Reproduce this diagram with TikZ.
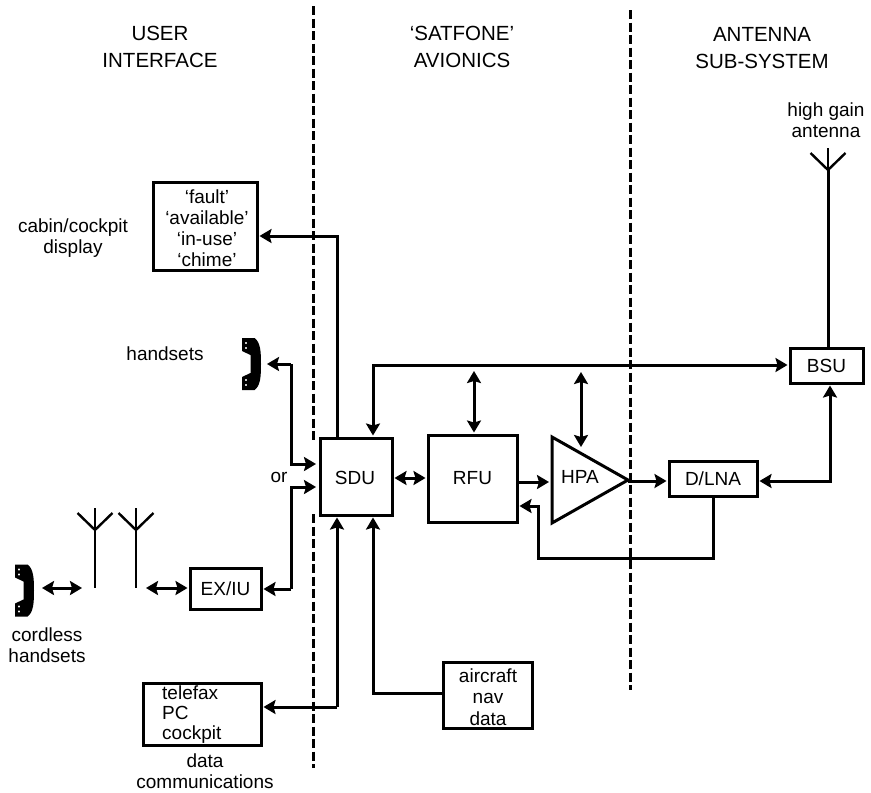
\documentclass[tikz,border=0pt]{standalone}
\usepackage{fontspec}
\setmainfont{Liberation Sans}
\usetikzlibrary{arrows.meta}

\tikzset{
  blockbox/.style={draw,line width=3pt,inner sep=0pt,align=center,font=\fontsize{19}{21.5}\selectfont},
  plainlabel/.style={align=center,inner sep=0pt,font=\fontsize{19}{21.5}\selectfont},
  headlabel/.style={align=center,inner sep=0pt,font=\fontsize{20.5}{27}\selectfont},
  wire/.style={line width=3pt,line join=miter},
  stalk/.style={line width=2.4pt},
  barrier/.style={line width=3pt,dash pattern=on 9pt off 3.5pt},
  handset/.pic={
    \fill[even odd rule] (-9.5,-26) -- (3,-26) .. controls (9,-22) and (9.5,-12) .. (9.5,0)
      .. controls (9.5,12) and (9,22) .. (3,26) -- (-9.5,26)
      -- (-9.5,13) -- (-1,9) -- (-1,-9) -- (-9.5,-13) -- cycle
      (-5.5,-21) circle (1.3) (-5.5,-16) circle (1.3) (-5.5,16) circle (1.3) (-5.5,21) circle (1.3);
  },
  fork/.pic={
    \draw[stalk] (-17.5,-17) -- (0,0) -- (17.5,-17);
    \draw[stalk] (0,0) -- (0,-22);
  }
}

\begin{document}
\begin{tikzpicture}[x=1pt,y=-1pt,>={Stealth[length=12pt,width=14pt,inset=2pt,sep=1pt]}]
  \useasboundingbox (0,0) rectangle (871,793);

  % zone headings
  \node[headlabel] (userhead) at (160,47) {USER\\INTERFACE};
  \node[headlabel] (avionhead) at (462,47) {`SATFONE'\\AVIONICS};
  \node[headlabel] (anthead) at (762,48) {ANTENNA\\SUB-SYSTEM};

  % zone borders
  \coordinate (bordA) at (313,6);
  \coordinate (bordAm) at (313,440);
  \coordinate (bordAn) at (313,514);
  \coordinate (bordB) at (313,768);
  \coordinate (bordC) at (630,10);
  \coordinate (bordD) at (630,690);
  \draw[barrier] (bordA) -- (bordAm);
  \draw[barrier] (bordAn) -- (bordB);
  \draw[barrier] (bordC) -- (bordD);

  % blocks
  \node[blockbox,minimum width=104,minimum height=88] (display) at (205,226) {};
  \node[plainlabel,font=\fontsize{19}{21}\selectfont] (displaytext) at (207,228) {`fault'\\`available'\\`in-use'\\`chime'};
  \node[blockbox,minimum width=72,minimum height=77] (sdu) at (356,476.5) {};
  \node[plainlabel] (sdutext) at (355,478) {SDU};
  \node[blockbox,minimum width=89,minimum height=87] (rfu) at (472.5,478.5) {RFU};
  \node[blockbox,minimum width=88,minimum height=35] (dlna) at (713,478.5) {D/LNA};
  \node[blockbox,minimum width=73,minimum height=35] (bsu) at (826.5,365.5) {BSU};
  \node[blockbox,minimum width=71,minimum height=41] (exiu) at (225.5,588.5) {EX/IU};
  \node[blockbox,minimum width=118,minimum height=62] (fax) at (202,714) {};
  \node[plainlabel,align=left,anchor=west,font=\fontsize{19}{20}\selectfont] (faxtext) at (162,715) {telefax\\PC\\cockpit};
  \node[blockbox,minimum width=89,minimum height=66] (navdata) at (487.5,695) {};
  \node[plainlabel] (navtext) at (488,697) {aircraft\\nav\\data};
  \draw[line width=3pt,line join=miter] (552,437) coordinate (hpaA) -- (628,480) coordinate (hpaTip) -- (552,523) coordinate (hpaB) -- cycle;
  \node[inner sep=0pt,font=\fontsize{19}{21.5}\selectfont] (hpa) at (580,477) {HPA};

  % free labels
  \node[plainlabel] (cabintext) at (73,238) {cabin/cockpit\\display};
  \node[plainlabel] (handtext) at (165,354) {handsets};
  \node[plainlabel] (ortext) at (279,477) {or};
  \node[plainlabel] (cordtext) at (47,645) {cordless\\handsets};
  \node[plainlabel] (datatext) at (205,771) {data\\communications};
  \node[plainlabel] (gaintext) at (826,120) {high gain\\antenna};

  % handsets and aerials
  \pic at (251.5,364) {handset};
  \pic at (24.5,590.5) {handset};
  \coordinate (aerA) at (95,530);
  \coordinate (aerAfoot) at (95,588);
  \coordinate (aerB) at (136,530);
  \coordinate (aerBfoot) at (136,588);
  \coordinate (aerC) at (828,170);
  \pic at (aerA) {fork};
  \pic at (aerB) {fork};
  \pic at (aerC) {fork};
  \draw[stalk] (aerA) -- (aerAfoot);
  \draw[stalk] (aerB) -- (aerBfoot);
  \draw[wire] (bsu.north -| aerC) -- (aerC);

  % wires on the user side
  \coordinate (handR) at (266,364);
  \coordinate (bendA) at (291,364);
  \coordinate (bendB) at (291,589);
  \coordinate (cordR) at (41,588);
  \coordinate (aerAr) at (83,588);
  \coordinate (aerBr) at (145,588);
  \draw[wire,->] (bendA) -- (handR);
  \draw[wire,->] (bendA) |- (317,464);
  \draw[wire,->] (bendB) |- (317,487);
  \draw[wire,->] (bendB) -- (exiu.east |- bendB);
  \draw[wire,<->] (cordR) -- (aerAr);
  \draw[wire,<->] (aerBr) -- (exiu.west |- aerBr);
  \draw[wire,->] (sdu.north -| 337,0) |- (display.east |- 0,236);
  \draw[wire,->] (337,707) -- (sdu.south -| 337,0);
  \draw[wire,->] (337,707) -- (fax.east |- 0,707);
  \draw[wire,->] (navdata.west |- 0,693) -| (sdu.south -| 373,0);

  % wires along the avionics
  \draw[wire,<->] (sdu.east |- 0,478) -- (rfu.west |- 0,478);
  \draw[wire,->] (rfu.east |- 0,482) -- (550,482);
  \draw[wire,->] (hpaTip |- 0,481) -- (dlna.west |- 0,481);
  \draw[wire,<->] (sdu.north -| 373,0) |- (bsu.west |- 0,365);
  \draw[wire,<->] (474,370) -- (rfu.north -| 474,0);
  \draw[wire,<->] (581,371) -- (581,448);
  \draw[wire,<->] (dlna.east |- 0,481) -| (bsu.south -| 830,0);
  \draw[wire,->] (dlna.south -| 713,0) |- (538,558) |- (rfu.east |- 0,506);
\end{tikzpicture}
\end{document}
